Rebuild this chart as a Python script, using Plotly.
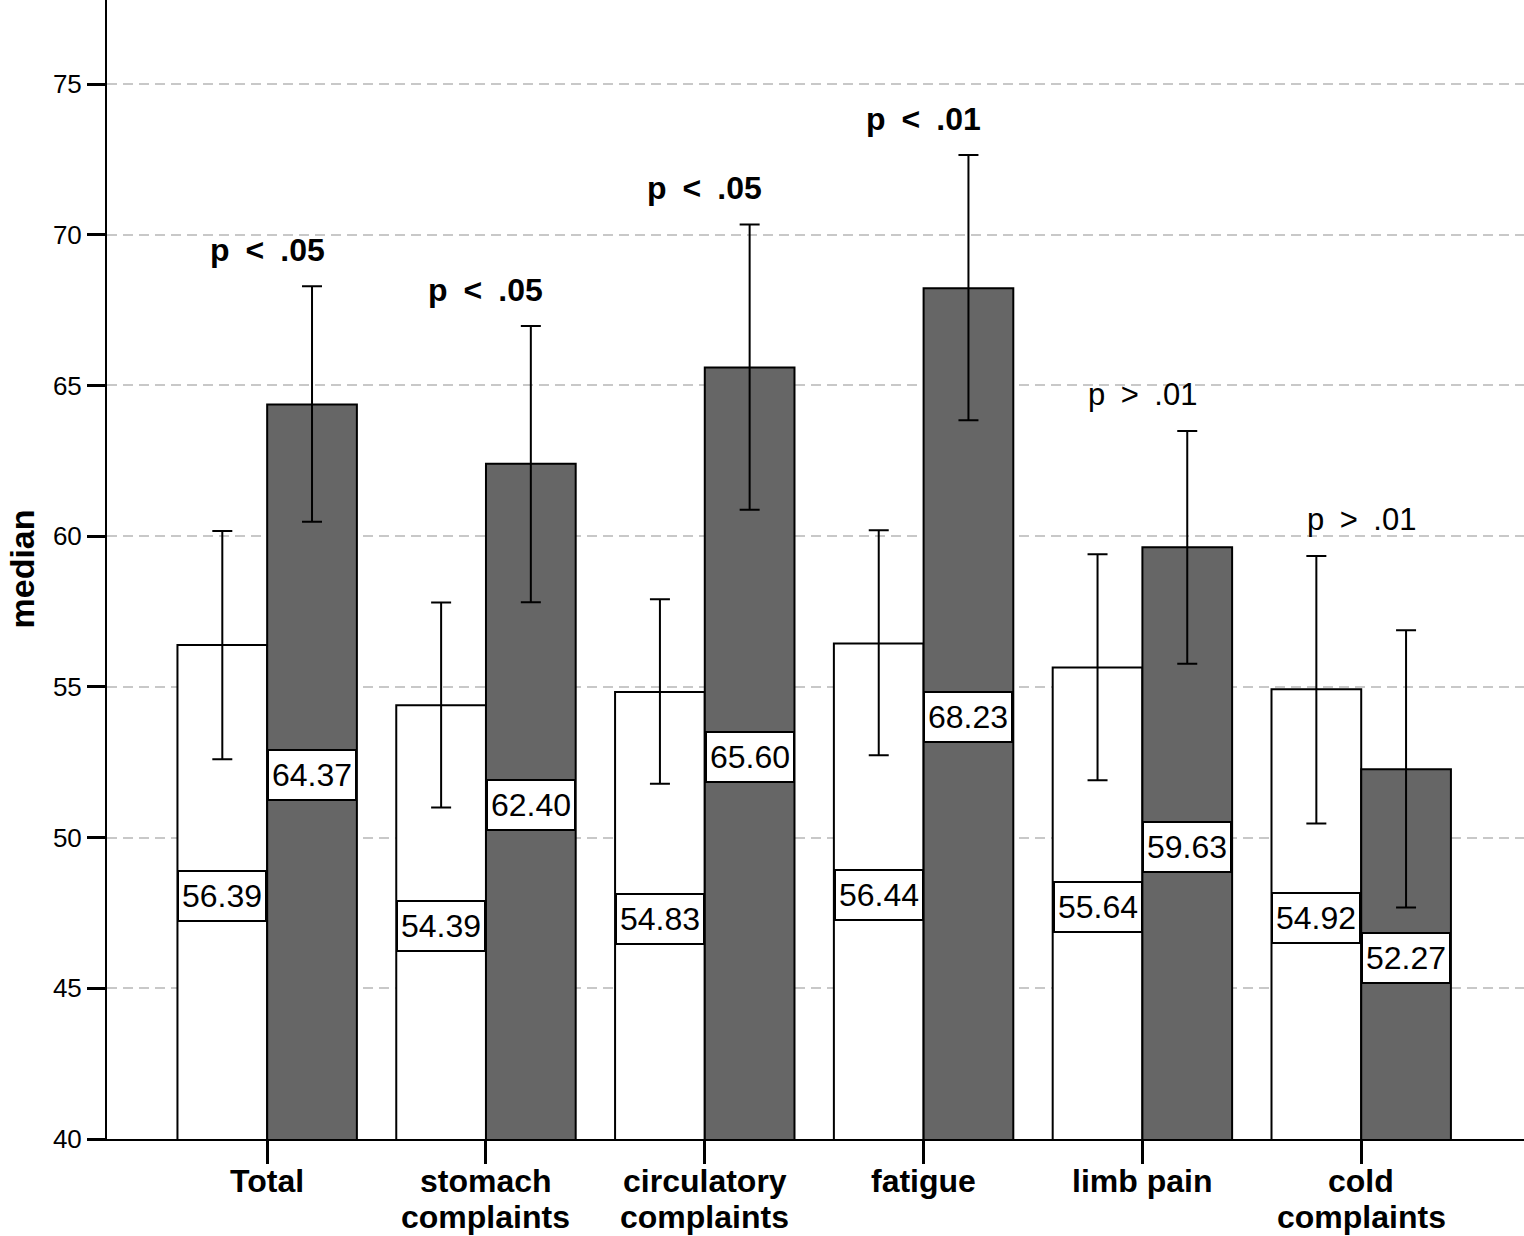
import plotly.graph_objects as go

# ---- data ----
categories = ["Total", "stomach\ncomplaints", "circulatory\ncomplaints", "fatigue", "limb pain", "cold\ncomplaints"]
group_a = [56.39, 54.39, 54.83, 56.44, 55.64, 54.92]
group_a_lo = [52.60, 51.00, 51.79, 52.73, 51.90, 50.47]
group_a_hi = [60.17, 57.80, 57.91, 60.20, 59.40, 59.34]
group_b = [64.37, 62.40, 65.60, 68.23, 59.63, 52.27]
group_b_lo = [60.48, 57.81, 60.88, 63.85, 55.77, 47.68]
group_b_hi = [68.29, 66.97, 70.34, 72.65, 63.49, 56.88]
p_labels = ["p < .05", "p < .05", "p < .05", "p < .01", "p > .01", "p > .01"]
p_bold = [True, True, True, True, False, False]
y_ticks = [40, 45, 50, 55, 60, 65, 70, 75]

FONT = "Liberation Sans, Arial, sans-serif"
xs = list(range(len(categories)))
BASE = 40
BAR_W = 0.41

fig = go.Figure()
fig.add_trace(go.Bar(
    x=xs, y=group_a, name="group A",
    marker=dict(color="white", line=dict(color="black", width=2)),
    error_y=dict(type="data", symmetric=False,
                 array=[h - v for h, v in zip(group_a_hi, group_a)],
                 arrayminus=[v - l for v, l in zip(group_a, group_a_lo)],
                 color="black", thickness=2, width=10),
))
fig.add_trace(go.Bar(
    x=xs, y=group_b, name="group B",
    marker=dict(color="#666666", line=dict(color="black", width=2)),
    error_y=dict(type="data", symmetric=False,
                 array=[h - v for h, v in zip(group_b_hi, group_b)],
                 arrayminus=[v - l for v, l in zip(group_b, group_b_lo)],
                 color="black", thickness=2, width=10),
))

annotations = []
# value boxes in the middle of each bar
for i in xs:
    for off, v in ((-BAR_W / 2, group_a[i]), (BAR_W / 2, group_b[i])):
        annotations.append(dict(
            x=i + off, y=(v + BASE) / 2 - 0.12, xref="x", yref="y",
            text=f"{v:.2f}", showarrow=False,
            font=dict(family=FONT, size=32, color="black"),
            bgcolor="white", bordercolor="black", borderwidth=2, borderpad=0,
            width=86, height=48, align="center", valign="middle",
            xanchor="center", yanchor="middle",
        ))
# p-value labels
for i in xs:
    t = p_labels[i].replace("<", "&lt;").replace(">", "&gt;").replace(" ", "\u2002")
    if p_bold[i]:
        t = "<b>" + t + "</b>"
    annotations.append(dict(
        x=i, y=max(group_a_hi[i], group_b_hi[i]) + 1.2, xref="x", yref="y",
        text=t, showarrow=False,
        font=dict(family=FONT, size=32 if p_bold[i] else 31, color="black"),
        xanchor="center", yanchor="middle",
    ))
# category labels (one annotation per line for tight line spacing)
for i, lab in enumerate(categories):
    for k, line in enumerate(lab.split("\n")):
        annotations.append(dict(
            x=i, y=0, xref="x", yref="paper",
            text="<b>" + line + "</b>", showarrow=False,
            font=dict(family=FONT, size=32, color="black"),
            xanchor="center", yanchor="middle", yshift=-(42 + 36 * k),
        ))
# y axis title
annotations.append(dict(
    x=0, y=0.5, xref="paper", yref="paper", text="<b>median</b>",
    showarrow=False, textangle=-90, xshift=-86,
    font=dict(family=FONT, size=34, color="black"),
    xanchor="center", yanchor="middle",
))

fig.update_layout(
    width=1524, height=1236,
    margin=dict(l=107, r=0, t=0, b=97),
    paper_bgcolor="white", plot_bgcolor="white",
    barmode="group", bargap=1 - 2 * BAR_W, bargroupgap=0,
    showlegend=False,
    annotations=annotations,
    font=dict(family=FONT, color="black"),
)
fig.update_xaxes(
    range=[-0.732, 5.744], tickvals=xs, showticklabels=False,
    ticks="outside", ticklen=23, tickwidth=2.5, tickcolor="black",
    showline=True, linecolor="black", linewidth=2,
    showgrid=False, zeroline=False,
)
fig.update_yaxes(
    range=[40, 77.79], tickvals=y_ticks,
    ticks="outside", ticklen=18, tickwidth=3, tickcolor="black",
    tickfont=dict(family=FONT, size=26, color="black"),
    showline=True, linecolor="black", linewidth=2,
    showgrid=True, gridcolor="#c8c8c8", gridwidth=1.5, griddash="10px,6px",
    zeroline=False,
)

fig.write_html("out.html", config={"displayModeBar": False},
               post_script="document.body.style.margin='0';")
